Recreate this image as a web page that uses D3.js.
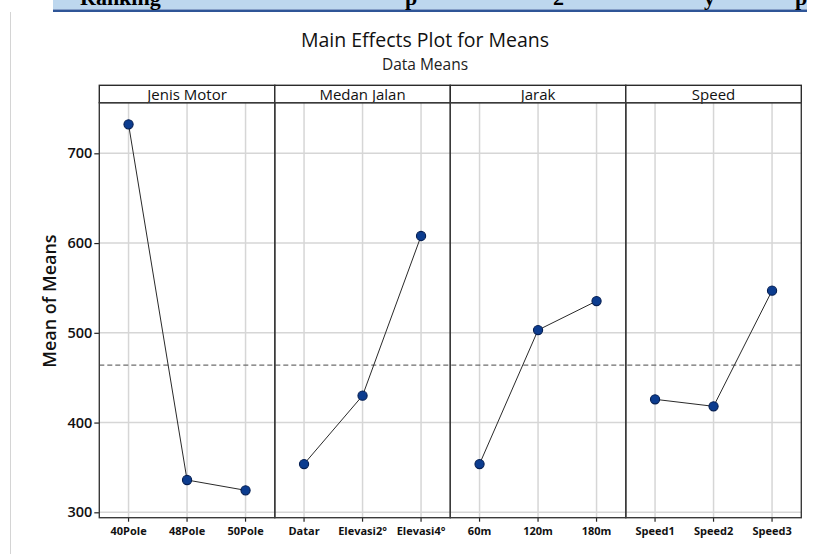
<!DOCTYPE html>
<html>
<head>
<meta charset="utf-8">
<script src="https://cdn.jsdelivr.net/npm/d3@7"></script>
<style>
  html, body { margin: 0; padding: 0; background: #fff; }
  svg { display: block; }
</style>
</head>
<body>
<svg id="chart" width="825" height="554"></svg>
<script>
// Factor names and their levels
const factors = ["Jenis Motor", "Medan Jalan", "Jarak", "Speed"];
const levelsJenis = ["40Pole", "48Pole", "50Pole"];
const levelsMedan = ["Datar", "Elevasi2°", "Elevasi4°"];
const levelsJarak = ["60m", "120m", "180m"];
const levelsSpeed = ["Speed1", "Speed2", "Speed3"];

// Mean of means for each level
const meansJenis = [732.3, 336.0, 324.5];
const meansMedan = [353.8, 430.0, 607.9];
const meansJarak = [353.8, 503.1, 535.4];
const meansSpeed = [425.9, 418.1, 547.0];

const yTicks = [300, 400, 500, 600, 700];

const panels = [
  { name: factors[0], levels: levelsJenis, values: meansJenis },
  { name: factors[1], levels: levelsMedan, values: meansMedan },
  { name: factors[2], levels: levelsJarak, values: meansJarak },
  { name: factors[3], levels: levelsSpeed, values: meansSpeed }
];

const grandMean = d3.mean(panels.flatMap(p => p.values));

const svg = d3.select("#chart");
const font = "'Open Sans', 'Noto Sans', sans-serif";

// Document header band above the figure
svg.append("rect").attr("x", 53).attr("y", 0).attr("width", 754).attr("height", 9.5).attr("fill", "#bdd7ee");
svg.append("rect").attr("x", 53).attr("y", 9.5).attr("width", 754).attr("height", 2.5).attr("fill", "#2f5597");
const hdr = svg.append("g").attr("font-family", "'Liberation Serif', serif").attr("font-weight", "bold").attr("font-size", 22).attr("fill", "#000");
hdr.append("text").attr("x", 80).attr("y", 5).text("Ranking");
hdr.append("text").attr("x", 405).attr("y", 5).text("p");
hdr.append("text").attr("x", 553).attr("y", 5).text("2");
hdr.append("text").attr("x", 704).attr("y", 5).text("y");
hdr.append("text").attr("x", 795).attr("y", 5).text("p");

// Page margin line
svg.append("line").attr("x1", 10.5).attr("x2", 10.5).attr("y1", 12).attr("y2", 554)
  .attr("stroke", "#d4d4d4").attr("stroke-width", 1);

// Plot geometry
const plotLeft = 99.3, plotRight = 801.3, plotTop = 102.7, plotBottom = 517.7, stripTop = 85.3;

const panelScale = d3.scaleBand().domain(factors).range([plotLeft, plotRight]).padding(0);
const y = d3.scaleLinear().domain([294, 756.4]).range([plotBottom, plotTop]);

// Titles
svg.append("text").attr("x", 425).attr("y", 47).attr("text-anchor", "middle")
  .attr("font-family", font).attr("font-size", 19.5).attr("font-weight", 500).attr("fill", "#111").text("Main Effects Plot for Means");
svg.append("text").attr("x", 425).attr("y", 69.5).attr("text-anchor", "middle")
  .attr("font-family", font).attr("font-size", 15.5).attr("fill", "#222").text("Data Means");

// Y axis title
svg.append("text").attr("transform", "translate(56,301) rotate(-90)").attr("text-anchor", "middle")
  .attr("font-family", font).attr("font-size", 18).attr("font-weight", 600).attr("fill", "#111").text("Mean of Means");

// Horizontal gridlines
svg.append("g").selectAll("line").data(yTicks).join("line")
  .attr("x1", plotLeft).attr("x2", plotRight)
  .attr("y1", d => y(d)).attr("y2", d => y(d))
  .attr("stroke", "#d6d6d6").attr("stroke-width", 1.5);

// Y axis
const yAxis = svg.append("g").attr("transform", `translate(${plotLeft},0)`)
  .call(d3.axisLeft(y).tickValues(yTicks).tickSize(5).tickPadding(2).tickFormat(d3.format("d")));
yAxis.select(".domain").remove();
yAxis.selectAll(".tick line").attr("stroke", "#222").attr("stroke-width", 1.2);
yAxis.selectAll(".tick text").attr("font-family", font).attr("font-size", 14.5)
  .attr("font-weight", 600).attr("fill", "#111");

panels.forEach(p => {
  const x0 = panelScale(p.name);
  const w = panelScale.bandwidth();
  const x = d3.scaleBand().domain(p.levels).range([x0, x0 + w]).padding(0);
  const cx = d => x(d) + x.bandwidth() / 2;
  const g = svg.append("g");

  // vertical gridlines
  g.selectAll("line.grid").data(p.levels).join("line").attr("class", "grid")
    .attr("x1", cx).attr("x2", cx).attr("y1", plotTop).attr("y2", plotBottom)
    .attr("stroke", "#d6d6d6").attr("stroke-width", 1.5);

  // x axis ticks and labels (band scale: ticks sit at band centres)
  const xAxis = svg.append("g").attr("transform", `translate(0,${plotBottom})`)
    .call(d3.axisBottom(x).tickSize(4).tickPadding(6));
  xAxis.select(".domain").remove();
  xAxis.selectAll(".tick line").attr("stroke", "#222").attr("stroke-width", 1.2);
  xAxis.selectAll(".tick text").attr("font-family", font).attr("font-size", 11)
    .attr("font-weight", 700).attr("fill", "#111");

  p.panelX = x0; p.panelW = w; p.cx = cx;
});

// Grand mean reference line
svg.append("line").attr("x1", plotLeft).attr("x2", plotRight)
  .attr("y1", y(grandMean)).attr("y2", y(grandMean))
  .attr("stroke", "#6e6e6e").attr("stroke-width", 1.3).attr("stroke-dasharray", "5,3");

// Connecting lines and markers
panels.forEach(p => {
  const pts = p.levels.map((lv, i) => [p.cx(lv), y(p.values[i])]);
  svg.append("path").attr("d", d3.line()(pts)).attr("fill", "none")
    .attr("stroke", "#2a2a2a").attr("stroke-width", 1);
  svg.append("g").selectAll("circle").data(pts).join("circle")
    .attr("cx", d => d[0]).attr("cy", d => d[1]).attr("r", 4.6)
    .attr("fill", "#0c3c8f").attr("stroke", "#061f52").attr("stroke-width", 1.1);
});

// Panel frames and strip headers
panels.forEach(p => {
  svg.append("rect").attr("x", p.panelX).attr("y", stripTop).attr("width", p.panelW).attr("height", plotTop - stripTop)
    .attr("fill", "#fff").attr("stroke", "#2b2b2b").attr("stroke-width", 1.4);
  svg.append("text").attr("x", p.panelX + p.panelW / 2).attr("y", 100).attr("text-anchor", "middle")
    .attr("font-family", font).attr("font-size", 15).attr("font-weight", 500).attr("fill", "#111").text(p.name);
  svg.append("rect").attr("x", p.panelX).attr("y", plotTop).attr("width", p.panelW).attr("height", plotBottom - plotTop)
    .attr("fill", "none").attr("stroke", "#3a3a3a").attr("stroke-width", 1.4);
});
</script>
</body>
</html>
